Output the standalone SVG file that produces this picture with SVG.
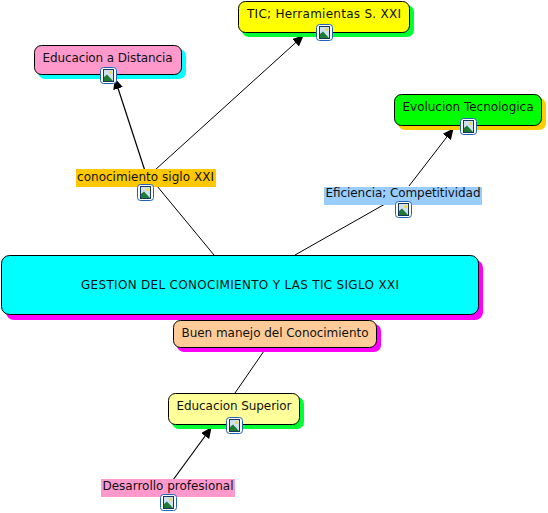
<svg xmlns="http://www.w3.org/2000/svg" width="548" height="513" viewBox="0 0 548 513">
<style>
text{font-family:"DejaVu Sans",Verdana,sans-serif;font-size:12px;fill:#111;text-anchor:middle}
.n{stroke:#000;stroke-width:1}
.c{stroke:#000;stroke-width:1;fill:none}
.t{stroke:#000;stroke-width:1.200;fill:none}
</style>
<defs>
<marker id="a" markerUnits="userSpaceOnUse" markerWidth="12" markerHeight="12" refX="10" refY="5" orient="auto"><path d="M0 0L11 5L0 10Z" fill="#000"/></marker>
<symbol id="i" width="17" height="17" viewBox="0 0 17 17" overflow="visible">
<rect x="0.500" y="0.500" width="16" height="16" rx="3" fill="#fff" stroke="#1f62b8"/>
<rect x="3.500" y="2.500" width="10" height="12" fill="#cfe0f0" stroke="#16375c"/>
<circle cx="10.500" cy="5.500" r="1.500" fill="#f5d93c"/>
<path d="M4 14V10L7 7.500L13 14Z" fill="#1f7a35"/>
</symbol>
</defs>
<g id="connectors">
<path class="t" d="M145 171L115 79" marker-end="url(#a)"/>
<path class="c" d="M155 170L303 36" marker-end="url(#a)"/>
<path class="c" d="M157 186L214 255"/>
<path class="c" d="M295 255L385 204"/>
<path class="c" d="M409 186L453 129" marker-end="url(#a)"/>
<path class="c" d="M264 351L235 393"/>
<path class="t" d="M173 480L211 428" marker-end="url(#a)"/>
</g>
<g id="n-edu-dist"><rect x="38" y="49" width="148" height="30" rx="7" fill="#00ffff"/><rect class="n" x="34.500" y="45.500" width="147" height="29" rx="7" fill="#ff99cc"/><text x="107.500" y="62" textLength="130">Educacion a Distancia</text><use href="#i" x="100" y="67"/></g>
<g id="n-tic"><rect x="242" y="5" width="172" height="32" rx="7" fill="#00ff33"/><rect class="n" x="238.500" y="1.500" width="171" height="31" rx="7" fill="#ffff00"/><text x="324" y="18" textLength="154">TIC; Herramientas S. XXI</text><use href="#i" x="316" y="24"/></g>
<g id="n-evo"><rect x="398" y="98" width="148" height="32" rx="7" fill="#ffcc00"/><rect class="n" x="394.500" y="94.500" width="147" height="31" rx="7" fill="#00ff00"/><text x="468" y="111" textLength="131">Evolucion Tecnologica</text><use href="#i" x="460" y="118"/></g>
<g id="n-conocimiento"><rect x="76" y="169" width="140" height="18" fill="#ffc800"/><text x="145.500" y="180.500" textLength="137">conocimiento siglo XXI</text><use href="#i" x="137" y="184"/></g>
<g id="n-eficiencia"><rect x="324" y="187" width="158" height="18" fill="#99ccff"/><text x="403" y="197" textLength="155">Eficiencia; Competitividad</text><use href="#i" x="395" y="201"/></g>
<g id="n-gestion"><rect x="6" y="260" width="477" height="60" rx="8" fill="#ff00ff"/><rect class="n" x="1.500" y="255.500" width="477" height="59" rx="8" fill="#00ffff"/><text x="240" y="289" textLength="318">GESTION DEL CONOCIMIENTO Y LAS TIC SIGLO XXI</text></g>
<g id="n-buen"><rect x="177" y="324" width="204" height="28" rx="7" fill="#ff00ff"/><rect class="n" x="173.500" y="320.500" width="203" height="27" rx="7" fill="#ffcc99"/><text x="275" y="337" textLength="187">Buen manejo del Conocimiento</text></g>
<g id="n-edu-sup"><rect x="172" y="397" width="132" height="32" rx="7" fill="#00ff33"/><rect class="n" x="168.500" y="393.500" width="131" height="31" rx="7" fill="#ffff99"/><text x="234" y="410" textLength="115">Educacion Superior</text><use href="#i" x="226" y="417"/></g>
<g id="n-desarrollo"><rect x="101" y="479" width="134" height="18" fill="#ff99cc"/><text x="168" y="490" textLength="131">Desarrollo profesional</text><use href="#i" x="160" y="494"/></g>
</svg>
